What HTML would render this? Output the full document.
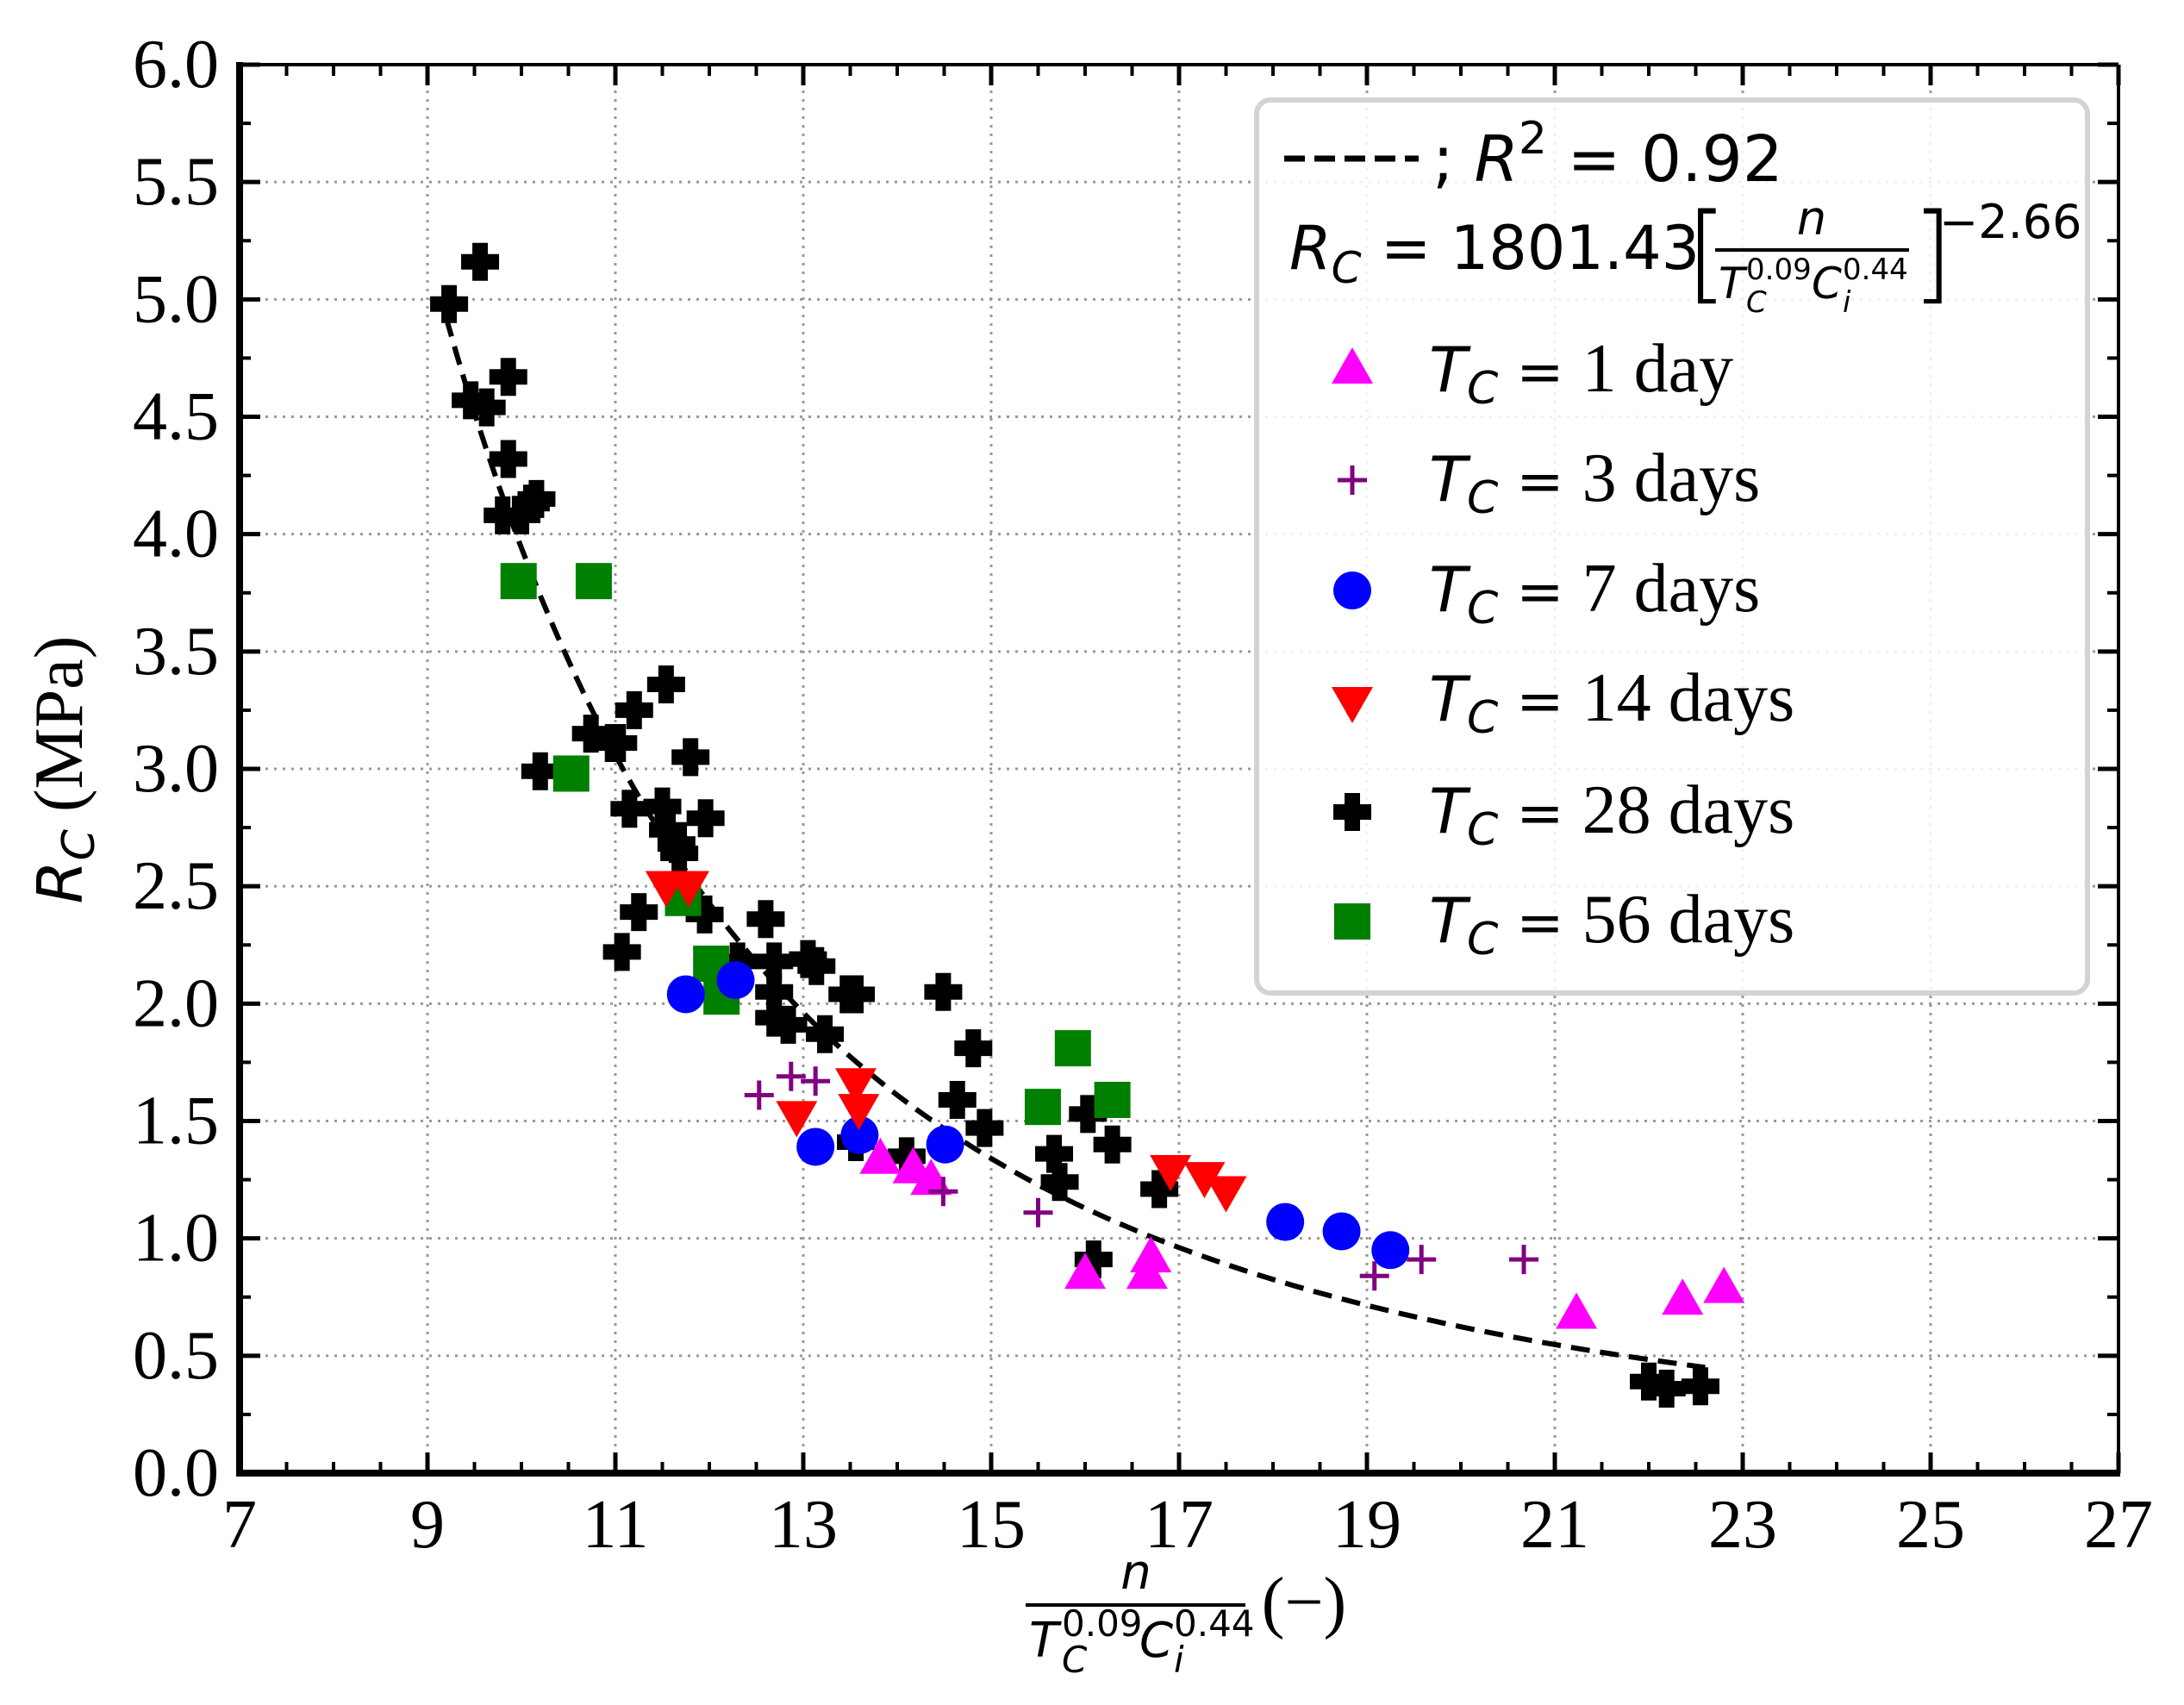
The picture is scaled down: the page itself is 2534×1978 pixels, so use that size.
<!DOCTYPE html>
<html><head><meta charset="utf-8"><style>
html,body{margin:0;padding:0;background:#fff;}
svg{display:block;}
.tick{font-family:"Liberation Serif",serif;font-size:80px;fill:#000;}
.leg{font-family:"Liberation Serif",serif;font-size:80px;fill:#000;}
.math{font-family:"DejaVu Sans",sans-serif;fill:#000;}
</style></head><body>
<svg id="chart" width="2534" height="1978" viewBox="0 0 2534 1978" xmlns="http://www.w3.org/2000/svg">
<g id="grid"></g>
<g id="fit"></g>
<g id="marks"></g>
<g id="axes"></g>
<g id="legend">
  <rect x="1458" y="116" width="964" height="1036" rx="16" fill="#fff" fill-opacity="0.85" stroke="#d3d3d3" stroke-width="6"/>
  <line x1="1490" y1="184" x2="1646" y2="184" stroke="#000" stroke-width="7" stroke-dasharray="24,11"/>
  <text class="math" x="1662" y="210" font-size="74">; <tspan font-style="italic">R</tspan><tspan dy="-32" font-size="52">2</tspan><tspan dy="32"> = 0.92</tspan></text>
  <g>
    <text class="math" x="1496" y="312" font-size="70"><tspan font-style="italic">R</tspan><tspan dy="16" font-size="50" font-style="italic">C</tspan><tspan dy="-16"> = 1801.43</tspan></text>
    <text class="math" x="1956" y="336" font-size="124" font-weight="100">[</text>
    <text class="math" x="2102" y="272" font-size="54" font-style="italic" text-anchor="middle">n</text>
    <line x1="1990" y1="290" x2="2215" y2="290" stroke="#000" stroke-width="4"/>
    <text class="math" x="1994" y="346" font-size="50" font-style="italic">T</text>
    <text class="math" x="2026" y="324" font-size="34">0.09</text>
    <text class="math" x="2026" y="362" font-size="34" font-style="italic">C</text>
    <text class="math" x="2102" y="346" font-size="50" font-style="italic">C</text>
    <text class="math" x="2138" y="362" font-size="34" font-style="italic">i</text>
    <text class="math" x="2138" y="324" font-size="34">0.44</text>
    <text class="math" x="2218" y="336" font-size="124" font-weight="100">]</text>
    <text class="math" x="2250" y="276" font-size="54">−2.66</text>
  </g>
</g>
<g id="labels">
  <text transform="translate(95,893) rotate(-90)" text-anchor="middle" class="leg"><tspan font-family="DejaVu Sans" font-style="italic" font-size="72">R</tspan><tspan font-family="DejaVu Sans" font-style="italic" font-size="52" dy="14">C</tspan><tspan dy="-14"> (MPa)</tspan></text>
  <g>
    <text class="math" x="1318" y="1843" font-size="56" font-style="italic" text-anchor="middle">n</text>
    <line x1="1190" y1="1862" x2="1445" y2="1862" stroke="#000" stroke-width="4"/>
    <text class="math" x="1194" y="1922" font-size="56" font-style="italic">T</text>
    <text class="math" x="1232" y="1898" font-size="42">0.09</text>
    <text class="math" x="1232" y="1940" font-size="42" font-style="italic">C</text>
    <text class="math" x="1322" y="1922" font-size="56" font-style="italic">C</text>
    <text class="math" x="1362" y="1940" font-size="42" font-style="italic">i</text>
    <text class="math" x="1362" y="1898" font-size="42">0.44</text>
    <text class="leg" x="1513" y="1885" text-anchor="middle">(−)</text>
  </g>
</g>
</svg>
<script>
const xTicks=[7,9,11,13,15,17,19,21,23,25,27];
const yTicks=[0,0.5,1,1.5,2,2.5,3,3.5,4,4.5,5,5.5,6];
const yTickLabels=["0.0","0.5","1.0","1.5","2.0","2.5","3.0","3.5","4.0","4.5","5.0","5.5","6.0"];
const fitA=1801.43, fitB=-2.66, fitRange=[9.2,22.6];
const d1x=[13.82,14.17,14.36,16.0,16.66,16.7,21.23,22.36,22.8];
const d1y=[1.33,1.29,1.24,0.84,0.84,0.91,0.67,0.73,0.78];
const d3x=[12.53,12.87,13.13,14.49,15.5,19.08,19.58,20.67];
const d3y=[1.61,1.69,1.67,1.20,1.11,0.84,0.91,0.91];
const d7x=[11.75,12.28,13.13,13.6,14.51,18.13,18.73,19.25];
const d7y=[2.04,2.10,1.39,1.44,1.40,1.07,1.03,0.95];
const d14x=[11.54,11.78,12.93,13.56,13.59,16.91,17.27,17.5];
const d14y=[2.51,2.51,1.53,1.67,1.56,1.30,1.27,1.21];
const d28x=[9.23,9.56,9.46,9.63,9.86,9.86,9.8,10.0,10.1,10.16,10.2,10.74,10.97,11.03,11.2,11.54,11.15,11.5,11.56,11.65,11.68,11.8,11.96,11.07,11.25,11.95,12.3,12.6,12.69,12.69,12.69,12.84,13.05,13.14,13.23,13.47,13.56,13.56,14.1,14.49,14.64,14.81,14.93,15.67,15.73,16.03,16.29,16.09,16.79,22.0,22.19,22.55];
const d28y=[4.98,5.16,4.57,4.54,4.67,4.32,4.08,4.08,4.13,4.15,2.99,3.15,3.11,3.11,3.25,3.36,2.83,2.84,2.74,2.68,2.64,3.05,2.79,2.22,2.39,2.38,2.18,2.36,2.18,2.05,1.94,1.91,2.19,2.16,1.87,2.04,2.04,1.41,1.35,2.05,1.59,1.81,1.47,1.36,1.24,1.53,1.40,0.91,1.21,0.39,0.36,0.37];
const d56x=[9.97,10.77,10.53,11.72,12.02,12.13,15.55,15.87,16.29];
const d56y=[3.80,3.80,2.98,2.45,2.17,2.03,1.56,1.81,1.59];

const L=278,R=2458,T=75,B=1709,X0=7,X1=27,Y0=0,Y1=6;
const sx=v=>L+(v-X0)/(X1-X0)*(R-L);
const sy=v=>B-(v-Y0)/(Y1-Y0)*(B-T);
const NS="http://www.w3.org/2000/svg";
function mk(tag,attrs,parent){const e=document.createElementNS(NS,tag);for(const k in attrs)e.setAttribute(k,attrs[k]);parent.appendChild(e);return e;}
const grid=document.getElementById('grid'),axes=document.getElementById('axes'),marks=document.getElementById('marks'),fit=document.getElementById('fit');

xTicks.forEach((v,i)=>{
  if(i>0&&i<xTicks.length-1){const g=mk('line',{x1:sx(v),x2:sx(v),y1:T,y2:B,stroke:'#999','stroke-width':3,'stroke-dasharray':'3,7'},grid);
  
  }
  const t=mk('text',{x:sx(v),y:1795,'text-anchor':'middle',class:'tick'},axes);t.textContent=v;
  
  
  mk('line',{x1:sx(v),x2:sx(v),y1:B,y2:B-24,stroke:'#000','stroke-width':5},axes);
  mk('line',{x1:sx(v),x2:sx(v),y1:T,y2:T+24,stroke:'#000','stroke-width':5},axes);
});
for(let v=X0;v<X1;v+=0.5){if(v%2===1)continue;
  mk('line',{x1:sx(v),x2:sx(v),y1:B,y2:B-13,stroke:'#000','stroke-width':4},axes);
  mk('line',{x1:sx(v),x2:sx(v),y1:T,y2:T+13,stroke:'#000','stroke-width':4},axes);}
yTicks.forEach((v,i)=>{
  if(i>0&&i<yTicks.length-1){const g=mk('line',{x1:L,x2:R,y1:sy(v),y2:sy(v),stroke:'#999','stroke-width':3,'stroke-dasharray':'3,7'},grid);
  
  }
  const t=mk('text',{x:254,y:sy(v)+26,'text-anchor':'end',class:'tick'},axes);t.textContent=yTickLabels[i];
  
  
  mk('line',{x1:L,x2:L+24,y1:sy(v),y2:sy(v),stroke:'#000','stroke-width':5},axes);
  mk('line',{x1:R,x2:R-24,y1:sy(v),y2:sy(v),stroke:'#000','stroke-width':5},axes);
  if(i<yTicks.length-1){const m=v+0.25;
  mk('line',{x1:L,x2:L+13,y1:sy(m),y2:sy(m),stroke:'#000','stroke-width':4},axes);
  mk('line',{x1:R,x2:R-13,y1:sy(m),y2:sy(m),stroke:'#000','stroke-width':4},axes);}
});
mk('line',{x1:L,x2:R,y1:T,y2:T,stroke:'#000','stroke-width':4},axes);
mk('line',{x1:R,x2:R,y1:T,y2:B,stroke:'#000','stroke-width':4},axes);
mk('line',{x1:L,x2:L,y1:T-3,y2:B+4,stroke:'#000','stroke-width':8},axes);
mk('line',{x1:L-4,x2:R+2,y1:B,y2:B,stroke:'#000','stroke-width':8},axes);

let pts=[];for(let i=0;i<=120;i++){const x=fitRange[0]+(fitRange[1]-fitRange[0])*i/120;pts.push(sx(x).toFixed(1)+','+sy(fitA*Math.pow(x,fitB)).toFixed(1));}
const fl=mk('polyline',{points:pts.join(' '),fill:'none',stroke:'#000','stroke-width':6,'stroke-dasharray':'22,12'},fit);



function marker(kind,x,y,parent){
  let e;
  if(kind==='tri'){e=mk('polygon',{points:`${x},${y-27} ${x-24},${y+15} ${x+24},${y+15}`,fill:'#ff00ff'},parent);}
  else if(kind==='dtri'){e=mk('polygon',{points:`${x},${y+27} ${x-24},${y-15} ${x+24},${y-15}`,fill:'#ff0000'},parent);}
  else if(kind==='circ'){e=mk('circle',{cx:x,cy:y,r:22,fill:'#0000ff'},parent);}
  else if(kind==='sq'){e=mk('rect',{x:x-21,y:y-21,width:42,height:42,fill:'#008000'},parent);}
  else if(kind==='plus'){e=mk('path',{d:`M${x-17},${y}H${x+17}M${x},${y-17}V${y+17}`,stroke:'#800080','stroke-width':5},parent);}
  else {e=mk('path',{d:`M${x-9},${y-22}h18v13h13v18h-13v13h-18v-13h-13v-18h13z`,fill:'#000'},parent);}
  return e;
}
const series=[['tri',d1x,d1y,'t1'],['plus',d3x,d3y,'t3'],['circ',d7x,d7y,'t7'],['dtri',d14x,d14y,'t14'],['bplus',d28x,d28y,'t28'],['sq',d56x,d56y,'t56']];
const drawOrder=[4,5,2,3,0,1];
drawOrder.forEach(si=>{const s=series[si];s[1].forEach((xv,i)=>{
  const e=marker(s[0],sx(xv),sy(s[2][i]),marks);
  
  
});});

const legend=document.getElementById('legend');
const legLabels=['1 day','3 days','7 days','14 days','28 days','56 days'];
const legY=[430,557,685,812,942,1069];
series.forEach((s,i)=>{
  const m=marker(s[0],1569,legY[i],legend);
  
  
  const t=mk('text',{x:1658,y:legY[i]+24,class:'leg'},legend);
  t.innerHTML='<tspan font-family="DejaVu Sans" font-style="italic" font-size="72">T</tspan><tspan font-family="DejaVu Sans" font-style="italic" font-size="52" dy="14">C</tspan><tspan dy="-14" font-family="DejaVu Sans" font-size="66"> = </tspan><tspan>'+legLabels[i]+'</tspan>';
  
  
});
</script>
</body></html>
